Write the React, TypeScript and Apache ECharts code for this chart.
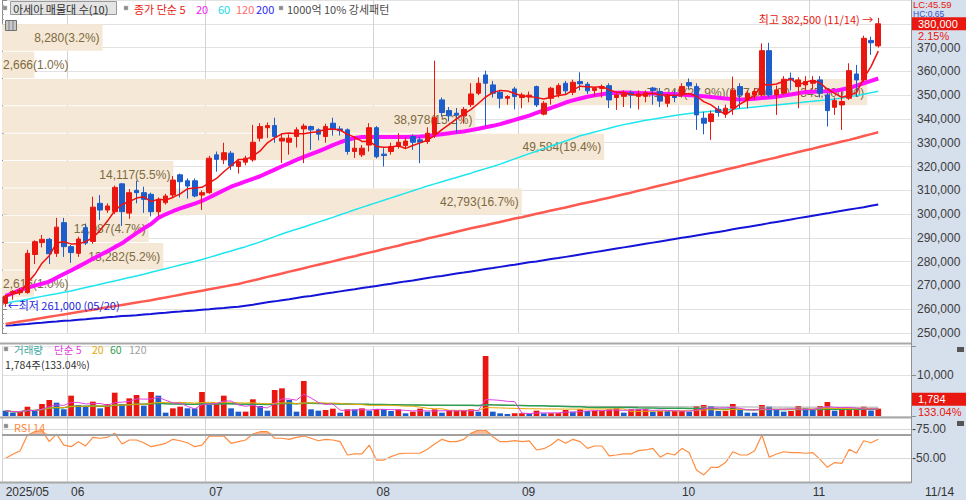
import React, { useEffect, useRef } from "react";
import * as echarts from "echarts";

// ---------- data (prices in thousand won) ----------
const YEAR = "2025";
const dates = [
  "05/20","05/21","05/22","05/23","05/26","05/27","05/28","05/29","05/30",
  "06/02","06/04","06/05","06/09","06/10","06/11","06/12","06/13","06/16","06/17","06/18","06/19","06/20","06/23","06/24","06/25","06/26","06/27","06/30",
  "07/01","07/02","07/03","07/04","07/07","07/08","07/09","07/10","07/11","07/14","07/15","07/16","07/17","07/18","07/21","07/22","07/23","07/24","07/25","07/28","07/29","07/30","07/31",
  "08/01","08/04","08/05","08/06","08/07","08/08","08/11","08/12","08/13","08/14","08/18","08/19","08/20","08/21","08/22","08/25","08/26","08/27","08/28","08/29",
  "09/01","09/02","09/03","09/04","09/05","09/08","09/09","09/10","09/11","09/12","09/15","09/16","09/17","09/18","09/19","09/22","09/23","09/24","09/25","09/26","09/29","09/30",
  "10/01","10/02","10/10","10/13","10/14","10/15","10/16","10/17","10/20","10/21","10/22","10/23","10/24","10/27","10/28","10/29","10/30","10/31",
  "11/03","11/04","11/05","11/06","11/07","11/10","11/11","11/12","11/13","11/14"
];

const open = [
  262.5,267,267,267,283,288,289.4,283.5,296.4,286.3,
  283.5,294.3,288.5,304.5,301.7,301,312.7,300.4,310,309,
  308.3,301,304.8,308,316.5,314,314,308,309,324.9,
  322.8,325.6,320,321.8,322.8,331.9,336.3,337.2,330.7,330.2,
  332.6,335.8,336.8,335.4,332.6,338.2,335.8,335.4,326.3,324.9,
  329,336.3,325.2,326.3,328.4,328.8,332.6,331.2,330.5,333.5,
  348,343.5,342.4,341.3,346,350.8,358.5,354.3,351.2,348.7,
  352.6,349,349.2,353.6,342,348.7,350.4,355,351.2,355.7,
  354.6,352,352.8,354,349,349.5,351,349.5,349.5,353,
  351.5,346.6,349.8,350.1,355.3,353.6,340.3,338.9,344.1,342.1,
  344.5,353.6,348,350,350.1,368.7,350.1,350.8,357.1,353.6,
  354.3,355,356.4,350.1,344.9,345.9,348.7,358.9,356.4,373,
  370.7
];
const high = [
  266,268,269,285,289,291.2,290,298.4,298.4,287,
  290.5,296,307.3,308,304.5,312,313,310.5,314,311.5,
  309,307,308.5,316,317,315,315,310,324.5,326.3,
  330,326.5,323,324.5,337.5,338.2,338.5,340.5,334,333.5,
  336.5,338,337.2,336,338,340.5,337,336,332,329,
  338.2,337,327.7,330,334,332,333.5,332.5,336.5,364.5,
  349,345,344.6,345,355,357.5,360.3,356,352.2,350,
  353.5,351,351.5,354,347.5,353.5,355,356,356.5,359.6,
  355.5,353.5,354.5,355,351,352,352,352,352,353.5,
  353,350.5,352,355,357,355,343,343.5,345.5,346,
  357.8,355,352,353,371.8,372,354,358,359.5,357.5,
  358,358,358,351,349,351.5,363.4,362.7,375,374.6,
  382.5
];
const low = [
  261,264,266,266.5,279,286,279,282,282,279.5,
  282,287,287.5,297.5,300.5,300,295,298,304.5,300.5,
  299,299,304,307,307,306.5,307,301.7,308.5,317.8,
  321,318.5,317,320.5,322,330.5,332,330,321.5,325,
  328,321.4,327,331,330,333,333,325,323.6,324,
  326.3,323.4,320,325,327.5,327.5,327,321.4,329.5,332,
  341,339,334,338,345,350,337,349,344.5,346,
  344,344.5,347,345,341.5,346,349,350.5,350,352,
  350.5,349.5,349,344.6,343.8,345,344.5,344,347,346,
  345,345,347,349,352.5,335.4,333.5,331.2,341,340.5,
  341.7,344.5,344.5,348,349.4,349,341.7,350,352,344.5,
  352,352.5,349,336.8,341.7,335.4,348,349.4,355.5,366.9,
  370
];
const close = [
  265.5,267.5,268,283.5,288.4,289.4,283.3,294.5,286.3,283.8,
  289.5,287.8,302.9,301.7,303.4,311.2,301,309,309,306.2,
  301,305.9,307.6,314.3,313.6,311.8,307.6,309,323.5,323,
  325.8,320.3,322,323.5,330.2,336.8,337.2,332.6,331.9,331.9,
  335.4,337,335.4,333.6,336.8,335.8,335.1,326.3,327.7,327.7,
  336.3,324.1,324.6,328.4,330.2,330.7,330.2,330.2,334,340.5,
  342.7,341.3,341.6,344,350.5,355,355,350.8,348.7,349.4,
  349.4,350.1,350,345.9,346.6,352.9,354,351.8,355.4,354.8,
  351.8,352.9,353.5,348,350.1,350.5,350,350.5,351,352,
  347.5,349.5,349,353.6,353.9,341.7,338.2,342.1,342.7,344.5,
  352,350.1,350.8,351.5,368.7,350.1,352.2,356.7,356.4,356.4,
  355.7,356.1,350.8,343.5,347.7,347.3,360.3,356.4,373.9,372,
  380
];
const volume = [
  1300,810,1060,2280,1220,2930,3900,3250,1630,4960,
  2680,2280,3500,1870,2930,5690,2930,4310,5120,2520,
  5850,4960,810,1870,2280,1870,1850,5850,2680,2930,
  4960,1870,1060,1070,4070,2440,1300,6340,6750,3900,
  1060,8540,1630,1300,1460,1790,810,1630,1620,1870,
  1300,1710,1630,1220,1630,650,1060,1790,1060,1630,
  810,1300,1320,1330,1630,1060,14630,1060,650,490,
  650,680,490,1300,650,680,700,1460,1060,1630,
  1220,1250,1300,1630,1870,810,1630,1650,1660,1060,
  1220,1200,1230,1250,1050,2440,2680,2440,1220,1250,
  2930,1460,810,800,2680,2280,1460,1060,1220,2440,
  1870,1460,2440,3410,1300,1630,1650,1660,2280,1341,
  1784
];
const ma20 = [
  265.6,266.8,268.1,269.0,269.9,270.7,271.6,273.2,274.8,276.3,
  277.9,279.5,281.2,282.8,284.4,286.1,287.7,289.9,292.0,294.0,
  295.8,298.4,299.9,301.2,302.4,303.4,304.4,305.5,307.0,308.5,
  310.0,311.5,312.6,313.7,314.8,315.9,317.3,318.7,320.1,321.4,
  322.8,324.0,325.2,326.4,327.6,329.0,330.2,331.2,332.0,332.4,
  332.4,332.4,332.4,332.4,332.4,332.4,332.5,332.6,332.8,333.2,
  333.6,334.0,334.4,334.7,335.3,335.9,336.5,337.1,337.8,338.7,
  339.6,340.5,341.4,342.5,343.6,344.6,345.7,346.9,347.8,348.6,
  349.3,349.9,350.4,350.8,351.0,351.1,351.0,350.9,350.8,350.7,
  350.6,350.5,350.5,350.3,350.0,349.8,349.5,349.2,348.9,348.6,
  348.4,348.2,348.3,348.5,348.8,349.0,349.3,349.8,350.3,350.8,
  351.3,351.4,351.5,351.6,351.8,352.4,353.0,354.0,355.0,356.0,
  357.0
];
const ma60 = [
  262.5,263.1,263.6,264.2,264.8,265.4,266.0,266.5,267.1,267.7,
  268.4,269.1,269.8,270.5,271.2,271.9,272.6,273.3,274.0,274.7,
  275.5,276.3,277.0,277.8,278.6,279.3,280.1,280.9,281.8,282.7,
  283.6,284.5,285.4,286.3,287.3,288.3,289.4,290.5,291.6,292.7,
  293.6,294.6,295.6,296.6,297.6,298.6,299.7,300.7,301.8,302.8,
  303.8,304.8,305.8,306.8,307.8,308.8,309.8,310.8,311.8,312.7,
  313.6,314.5,315.4,316.3,317.2,318.2,319.1,320.0,321.0,322.1,
  323.2,324.3,325.4,326.4,327.5,328.6,329.7,330.7,331.8,332.9,
  333.7,334.5,335.3,336.1,336.9,337.6,338.2,338.8,339.4,339.9,
  340.4,340.9,341.4,341.9,342.3,342.6,342.9,343.2,343.5,343.8,
  344.1,344.4,344.7,345.0,345.3,345.6,345.9,346.2,346.5,346.8,
  347.1,347.4,347.7,348.0,348.4,348.8,349.3,349.8,350.4,351.0,
  351.6
];
const ma120 = [
  253.8,254.3,254.8,255.3,255.8,256.3,256.8,257.3,257.8,258.3,
  258.8,259.3,259.8,260.3,260.8,261.3,261.8,262.3,262.8,263.3,
  263.8,264.4,264.9,265.5,266.1,266.7,267.2,267.8,268.4,268.9,
  269.5,270.1,270.6,271.4,272.1,272.8,273.6,274.3,275.0,275.8,
  276.5,277.2,278.0,278.7,279.4,280.1,280.9,281.6,282.3,283.1,
  283.8,284.5,285.3,286.0,286.7,287.5,288.2,288.9,289.7,290.4,
  291.1,291.8,292.6,293.3,294.0,294.7,295.3,296.0,296.7,297.4,
  298.1,298.7,299.4,300.1,300.8,301.5,302.1,302.8,303.5,304.2,
  304.9,305.5,306.2,306.9,307.6,308.3,309.0,309.8,310.5,311.3,
  312.0,312.7,313.5,314.2,315.0,315.7,316.4,317.2,317.9,318.7,
  319.4,320.1,320.9,321.6,322.4,323.1,323.8,324.6,325.3,326.1,
  326.8,327.5,328.3,329.0,329.8,330.5,331.2,332.0,332.8,333.6,
  334.4
];
const ma200 = [
  253.1,253.3,253.6,253.8,254.1,254.3,254.6,254.8,255.1,255.3,
  255.6,255.8,256.1,256.3,256.6,256.8,257.1,257.3,257.5,257.8,
  258.0,258.3,258.5,258.8,259.0,259.3,259.5,259.8,260.0,260.3,
  260.5,260.8,261.0,261.5,261.9,262.4,262.9,263.3,263.8,264.2,
  264.7,265.2,265.6,266.1,266.6,267.0,267.5,268.0,268.4,268.9,
  269.3,269.8,270.3,270.7,271.2,271.7,272.1,272.6,273.1,273.6,
  274.0,274.5,275.0,275.4,275.9,276.4,276.9,277.3,277.8,278.3,
  278.7,279.2,279.7,280.1,280.6,281.1,281.5,282.0,282.5,283.0,
  283.5,284.0,284.5,285.0,285.5,286.0,286.5,287.0,287.5,288.0,
  288.5,289.0,289.5,290.0,290.5,291.0,291.5,292.0,292.5,293.0,
  293.6,294.1,294.6,295.1,295.6,296.2,296.7,297.2,297.7,298.3,
  298.8,299.3,299.8,300.3,300.9,301.4,301.9,302.4,302.9,303.5,
  304.0
];
const rsi14 = [
  50.0,53.5,56.5,69.9,72.7,73.6,64.2,70.7,61.3,59.9,
  64.2,60.5,67.9,67.1,67.9,71.3,62.2,65.6,65.6,63.3,
  59.9,61.3,62.8,66.2,65.0,63.3,59.9,61.3,69.0,69.0,
  69.0,62.8,64.2,65.6,70.7,72.7,72.7,67.1,67.1,66.2,
  67.9,69.0,67.1,65.0,66.2,65.6,64.2,52.8,53.7,53.7,
  61.3,48.5,48.5,51.4,53.7,54.3,54.3,54.3,57.7,62.2,
  66.2,64.2,64.2,66.2,71.3,74.1,74.1,68.4,64.2,64.2,
  65.0,64.2,64.8,57.1,58.2,61.3,66.2,62.8,66.2,64.2,
  58.5,60.5,60.5,52.0,52.8,53.7,53.7,56.5,57.1,58.5,
  50.9,54.3,52.8,58.5,54.8,40.0,35.8,42.3,42.3,46.3,
  55.6,52.8,52.8,56.5,69.9,50.9,53.7,55.6,54.8,54.8,
  54.3,54.8,49.1,42.3,46.3,45.7,57.7,54.3,65.0,63.3,
  66.2
];

// price-volume distribution (매물대), top to bottom
const bandHigh = [380000, 368500, 357000, 345500, 334000, 322500, 311000, 299500, 288000, 276500];
const bandLow = [368500, 357000, 345500, 334000, 322500, 311000, 299500, 288000, 276500, 265000];
const bandVolume = [8280, 2666, 71248, 38978, 49584, 14117, 42793, 12087, 13282, 2616];
const bandPct = [3.2, 1.0, 27.9, 15.2, 19.4, 5.5, 16.7, 4.7, 5.2, 1.0];

const rsiGuides = [75, 50];
const rsiSignal = 70;
const lcText = "LC:45.59";
const hcText = "HC:0.65";

// ---------- styling ----------
const UP = "#E8170F";
const DOWN = "#1C5CCB";
const NUM_FONT = "'Liberation Sans Narrow', 'Liberation Sans', Arial, sans-serif";
const BAND_FONT = "'Liberation Sans', Arial, sans-serif";
const KR_FONT = "'Noto Sans CJK KR', 'Noto Sans', sans-serif";
const PANEL_BG = "#D6DFEC";
const K = 1000;

function sma(arr: number[], n: number) {
  return arr.map((_, i) => {
    const s = Math.max(0, i - n + 1);
    let t = 0;
    for (let k = s; k <= i; k++) t += arr[k];
    return +(t / (i - s + 1)).toFixed(2);
  });
}

export default function App() {
  const ref = useRef<HTMLDivElement>(null);

  useEffect(() => {
    const chart = echarts.init(ref.current as HTMLDivElement, null, { renderer: "svg" });
    const fmt = echarts.format.addCommas;
    const n = dates.length;
    const last = n - 1;
    const cats = [...dates, " ", "  ", "   ", "    "];
    const monthStart = (i: number) =>
      i < n && (i === 0 || dates[i].slice(0, 2) !== dates[i - 1].slice(0, 2));

    const candleData = open.map((o, i) => [o * K, close[i] * K, low[i] * K, high[i] * K]);
    const ma5 = sma(close, 5);
    const volColors = volume.map((v, i) => (i > 0 && v > volume[i - 1] ? UP : DOWN));
    const volMA5 = sma(volume, 5);
    const volMA20 = sma(volume, 20);
    const volMA60 = sma(volume, 60);
    const volMA120 = sma(volume, 120);

    let iMax = 0, iMin = 0;
    high.forEach((h, i) => { if (h > high[iMax]) iMax = i; });
    low.forEach((l, i) => { if (l < low[iMin]) iMin = i; });

    const maxBand = Math.max(...bandVolume);
    const bandLabels = bandVolume.map((v, k) => {
      let s = `${fmt(v)}(${bandPct[k].toFixed(1)}%)`;
      if (v === maxBand) s += `(${fmt(bandHigh[k].toFixed(2))} - ${fmt(bandLow[k].toFixed(2))})`;
      return s;
    });

    const mkX = (gridIndex: number, showLabel: boolean) => ({
      type: "category",
      gridIndex,
      data: cats,
      boundaryGap: true,
      axisLine: { show: false },
      axisTick: { show: false },
      axisLabel: showLabel
        ? {
            show: true,
            interval: (i: number) => monthStart(i),
            formatter: (v: string, i: number) => (i === 0 ? `${YEAR}/${v.slice(0, 2)}` : v.slice(0, 2)),
            align: "left",
            margin: 4,
            color: "#333",
            fontSize: 12,
            fontFamily: NUM_FONT,
          }
        : { show: false },
      splitLine: {
        show: true,
        interval: (i: number) => monthStart(i),
        lineStyle: { color: "#D4D4D4", width: 1 },
      },
    });

    const lineS = (name: string, data: number[], color: string, width: number, xi: number, yi: number, z = 3) => ({
      name,
      type: "line",
      xAxisIndex: xi,
      yAxisIndex: yi,
      data,
      showSymbol: false,
      symbol: "none",
      silent: true,
      z,
      lineStyle: { color, width },
    });

    const option: any = {
      animation: false,
      backgroundColor: "#ffffff",
      textStyle: { fontFamily: NUM_FONT },
      grid: [
        { left: 2, width: 909, top: 0, height: 333 },
        { left: 2, width: 909, top: 346.3, height: 69.7 },
        { left: 2, width: 909, top: 417.3, height: 64.4 },
      ],
      xAxis: [
        mkX(0, false),
        mkX(1, false),
        mkX(2, true),
        { type: "value", gridIndex: 0, min: 0, max: maxBand / 0.952, show: false },
      ],
      yAxis: [
        {
          type: "value",
          gridIndex: 0,
          position: "right",
          min: 250000,
          max: 390000,
          interval: 10000,
          axisLine: { show: true, lineStyle: { color: "#8C8C8C" } },
          axisTick: { show: true, length: 5, lineStyle: { color: "#8C8C8C" } },
          minorTick: { show: true, splitNumber: 5, length: 2, lineStyle: { color: "#A0A0A0" } },
          axisLabel: {
            formatter: (v: number) => (v >= 380000 ? "" : fmt(v)),
            color: "#3C3C3C",
            fontSize: 12,
            fontFamily: NUM_FONT,
            margin: 6,
          },
          splitLine: { show: true, lineStyle: { color: "#E2E2E2" } },
        },
        {
          type: "value",
          gridIndex: 1,
          position: "right",
          min: 0,
          max: 17000,
          interval: 10000,
          axisLine: { show: true, lineStyle: { color: "#8C8C8C" } },
          axisTick: { show: true, length: 5, lineStyle: { color: "#8C8C8C" } },
          axisLabel: {
            formatter: (v: number) => (v === 10000 ? fmt(v) : ""),
            color: "#3C3C3C",
            fontSize: 12,
            fontFamily: NUM_FONT,
            margin: 6,
          },
          splitLine: { show: true, lineStyle: { color: "#E2E2E2" } },
        },
        {
          type: "value",
          gridIndex: 2,
          position: "right",
          min: 30,
          max: 85,
          interval: 5,
          axisLine: { show: true, lineStyle: { color: "#8C8C8C" } },
          axisTick: { show: false },
          axisLabel: {
            formatter: (v: number) => (rsiGuides.includes(v) ? "-" + v.toFixed(2) : ""),
            color: "#3C3C3C",
            fontSize: 12,
            fontFamily: NUM_FONT,
            margin: 1,
          },
          splitLine: { show: false },
        },
      ],
      series: [
        {
          name: "bands",
          type: "custom",
          xAxisIndex: 3,
          yAxisIndex: 0,
          silent: true,
          z: 1,
          data: bandVolume.map((v, k) => [v, bandLow[k], bandHigh[k]]),
          renderItem: (params: any, api: any) => {
            const v = api.value(0);
            const lo = api.value(1);
            const hi = api.value(2);
            const p0 = api.coord([0, hi]);
            const p1 = api.coord([v, lo]);
            const w = p1[0] - p0[0];
            const label = bandLabels[params.dataIndex];
            const estW = label.length * 6.3;
            const rightAlign = estW + 6 < w;
            return {
              type: "group",
              children: [
                {
                  type: "rect",
                  shape: { x: p0[0], y: p0[1] + 0.5, width: w, height: p1[1] - p0[1] - 1 },
                  style: { fill: "#F6E8D6" },
                },
                {
                  type: "text",
                  style: {
                    text: label,
                    x: rightAlign ? p1[0] - 3 : p0[0] + 1,
                    y: (p0[1] + p1[1]) / 2 + 0.5,
                    align: rightAlign ? "right" : "left",
                    verticalAlign: "middle",
                    textAlign: rightAlign ? "right" : "left",
                    textVerticalAlign: "middle",
                    fill: "#7D6A42",
                    font: `12px ${BAND_FONT}`,
                  },
                },
              ],
            };
          },
        },
        lineS("MA200", ma200.map((v) => v * K), "#1414D8", 2, 0, 0),
        lineS("MA120", ma120.map((v) => v * K), "#FF5A50", 2.5, 0, 0),
        lineS("MA60", ma60.map((v) => v * K), "#1EE6EE", 1.5, 0, 0),
        lineS("MA20", ma20.map((v) => v * K), "#FF10FF", 4, 0, 0),
        {
          name: "price",
          type: "candlestick",
          xAxisIndex: 0,
          yAxisIndex: 0,
          data: candleData,
          barWidth: "70%",
          silent: true,
          z: 5,
          itemStyle: { color: UP, color0: DOWN, borderColor: UP, borderColor0: DOWN, borderWidth: 1 },
          markPoint: {
            symbol: "circle",
            symbolSize: 0,
            silent: true,
            data: [
              {
                coord: [dates[iMax], high[iMax] * K],
                label: {
                  show: true,
                  position: "left",
                  distance: 5,
                  offset: [0, 1],
                  formatter: `최고 ${fmt(high[iMax] * K)} (${dates[iMax]}) →`,
                  color: UP,
                  fontSize: 11,
                  fontFamily: KR_FONT,
                },
              },
              {
                coord: [dates[iMin], low[iMin] * K],
                label: {
                  show: true,
                  position: "right",
                  distance: 2,
                  offset: [0, -2],
                  formatter: `←최저 ${fmt(low[iMin] * K)} (${dates[iMin]})`,
                  color: "#2222DD",
                  fontSize: 11,
                  fontFamily: KR_FONT,
                },
              },
            ],
          },
        },
        lineS("MA5", ma5.map((v) => v * K), "#F01010", 1.5, 0, 0, 6),
        {
          name: "volume",
          type: "bar",
          xAxisIndex: 1,
          yAxisIndex: 1,
          barWidth: "78%",
          silent: true,
          data: volume.map((v, i) => ({ value: v, itemStyle: { color: volColors[i] } })),
        },
        lineS("VMA120", volMA120, "#A8A8A8", 1, 1, 1),
        lineS("VMA60", volMA60, "#2E9E50", 1.5, 1, 1),
        lineS("VMA20", volMA20, "#E8A800", 1, 1, 1),
        lineS("VMA5", volMA5, "#E040E0", 1, 1, 1),
        {
          name: "rsiFill",
          type: "line",
          xAxisIndex: 2,
          yAxisIndex: 2,
          data: rsi14.map((v) => Math.max(v, rsiSignal)),
          showSymbol: false,
          symbol: "none",
          silent: true,
          lineStyle: { width: 0, opacity: 0 },
          areaStyle: { origin: rsiSignal, color: "#F4B08A", opacity: 0.85 },
          z: 2,
        },
        {
          name: "RSI 14",
          type: "line",
          xAxisIndex: 2,
          yAxisIndex: 2,
          data: rsi14,
          showSymbol: false,
          symbol: "none",
          silent: true,
          z: 3,
          lineStyle: { color: "#FF8C40", width: 1.2 },
          markLine: {
            silent: true,
            symbol: "none",
            label: { show: false },
            data: [
              ...rsiGuides.map((g) => ({ yAxis: g, lineStyle: { color: "#D8D8D8", width: 1, type: "solid" } })),
              { yAxis: rsiSignal, lineStyle: { color: "#A0A0A0", width: 2, type: "solid" } },
            ],
          },
        },
      ],
    };

    chart.setOption(option);

    const yPrice = chart.convertToPixel({ yAxisIndex: 0 }, close[last] * K) as number;
    const yVol = chart.convertToPixel({ yAxisIndex: 1 }, volume[last]) as number;
    const pricePct = ((close[last] / close[last - 1] - 1) * 100).toFixed(2);
    const volPct = ((volume[last] / volume[last - 1]) * 100).toFixed(2);

    const rect = (x: number, y: number, w: number, h: number, fill: string, extra: any = {}, z = 50) => ({
      type: "rect",
      z,
      silent: true,
      shape: { x, y, width: w, height: h },
      style: { fill, ...extra },
    });
    const txt = (x: number, y: number, t: string, fill: string, size = 11, font = KR_FONT, z = 60) => ({
      type: "text",
      z,
      silent: true,
      x,
      y,
      style: {
        text: t,
        fill,
        font: `${size}px ${font}`,
        align: "left",
        verticalAlign: "middle",
        textAlign: "left",
        textVerticalAlign: "middle",
      },
    });
    const hline = (y: number, x1: number, x2: number, color: string, w: number) => ({
      type: "line",
      z: 40,
      silent: true,
      shape: { x1, y1: y, x2, y2: y },
      style: { stroke: color, lineWidth: w },
    });
    const sq = (x: number, y: number) => rect(x, y, 4, 4, "#8A8A8A", { stroke: "#C0C0C0", lineWidth: 0.5 });

    const elements: any[] = [
      rect(911, 0, 55, 500, PANEL_BG, {}, -10),
      rect(0, 483, 966, 17, PANEL_BG, {}, -10),
      hline(343.5, 0, 911, "#A8A8A8", 2),
      hline(417.5, 0, 911, "#A8A8A8", 2),
      hline(482.5, 0, 911, "#A8A8A8", 2),
      { type: "line", z: 40, silent: true, shape: { x1: 911.5, y1: 0, x2: 911.5, y2: 483 }, style: { stroke: "#909090", lineWidth: 1 } },
      // top legend
      sq(3, 6),
      rect(10.5, 1.5, 106, 13, "#E4E4E4", { stroke: "#9A9A9A", lineWidth: 1 }),
      txt(13, 8.5, `아세아 매물대 수(${bandVolume.length})`, "#303030"),
      sq(124, 6),
      txt(134, 8.5, "종가 단순 5", UP),
      txt(196, 8.5, "20", "#F020F0"),
      txt(218, 8.5, "60", "#20D8E8"),
      txt(236, 8.5, "120", "#FF6A6A"),
      txt(256, 8.5, "200", "#2828F0"),
      sq(279, 6),
      txt(287, 8.5, "1000억 10% 강세패턴", "#4A4A4A"),
      rect(5.5, 20.5, 11, 10, "#C8C8C8", { stroke: "#707070", lineWidth: 1 }),
      { type: "line", z: 55, silent: true, shape: { x1: 9, y1: 21, x2: 9, y2: 30 }, style: { stroke: "#707070", lineWidth: 0.8 } },
      { type: "line", z: 55, silent: true, shape: { x1: 13, y1: 21, x2: 13, y2: 30 }, style: { stroke: "#707070", lineWidth: 0.8 } },
      // right top
      txt(913, 4.5, lcText, UP, 9.5, NUM_FONT),
      txt(913, 14, hcText, "#3050D0", 8.5, NUM_FONT),
      rect(912, yPrice - 6.5, 54, 13, UP, {}, 70),
      txt(918, yPrice + 0.5, fmt(close[last] * K), "#FFFFFF", 11, NUM_FONT, 71),
      txt(918, yPrice + 12.5, `${pricePct}%`, UP, 11, NUM_FONT, 71),
      // volume legend
      sq(4, 347),
      txt(14, 349, "거래량", "#3AA89E", 10.5),
      txt(54, 349, "단순 5", "#E040E0", 10.5),
      txt(92, 349, "20", "#E8A800", 10.5),
      txt(110, 349, "60", "#2E9E50", 10.5),
      txt(129, 349, "120", "#A0A0A0", 10.5),
      txt(5, 364.5, `${fmt(volume[last])}주(${volPct}%)`, "#333333", 10.5),
      rect(957, 347, 7, 5, "#555555"),
      rect(912, yVol - 16, 54, 13, UP, {}, 70),
      txt(918, yVol - 9.5, fmt(volume[last]), "#FFFFFF", 11, NUM_FONT, 71),
      txt(918, yVol + 3.5, `${volPct}%`, UP, 11, NUM_FONT, 71),
      // RSI legend
      sq(4, 424),
      txt(14, 426.5, "RSI 14", "#FF8A3D"),
      rect(957, 421, 7, 5, "#555555"),
      // bottom right date
      txt(925, 492, dates[last], "#333333", 12, NUM_FONT),
    ];

    chart.setOption({ graphic: { elements } });

    return () => chart.dispose();
  }, []);

  return (
    <div
      ref={ref}
      style={{ position: "fixed", left: 0, top: 0, width: 966, height: 500, background: "#ffffff" }}
    />
  );
}
